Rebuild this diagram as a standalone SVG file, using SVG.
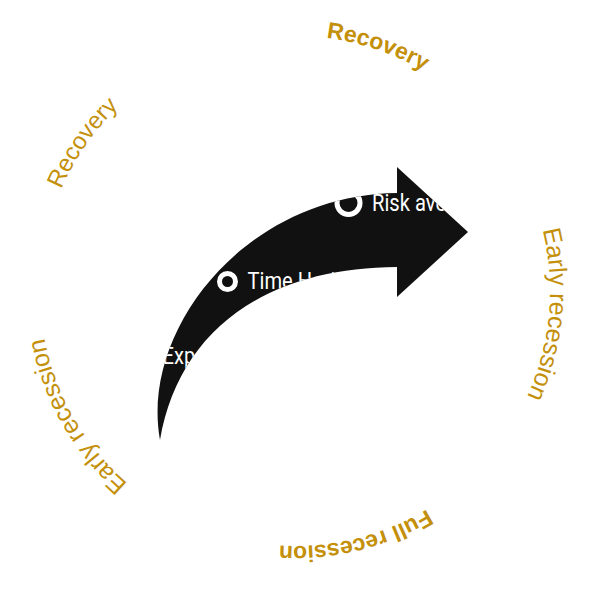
<svg xmlns="http://www.w3.org/2000/svg" xmlns:xlink="http://www.w3.org/1999/xlink" width="591" height="591" viewBox="0 0 591 591">
  <style>
    .lbl { fill: #C4900C; font-family: "Liberation Sans", Arial, sans-serif; font-size: 24px; }
    .b { font-weight: bold; font-size: 23px; }
    .er { font-size: 25px; }
    .wt { fill: #FFFFFF; font-family: Roboto, "Liberation Sans", sans-serif; font-size: 24px; }
    .dot { fill: none; stroke: #FFFFFF; stroke-width: 5; }
  </style>
  <defs>
    <path id="ring" d="M 295,36 A 255,255 0 1,1 295,546 A 255,255 0 1,1 295,36 Z"/>
    <path id="arrowShape" d="M 160,440 C 140,330 245,195 397,193 L 397,167 L 468,232 L 397,297 L 397,267 C 260,268 178,335 160,440 Z"/>
    <clipPath id="arrowClip">
      <use xlink:href="#arrowShape"/>
    </clipPath>
  </defs>
  <rect width="591" height="591" fill="#FFFFFF"/>

  <g id="arrow">
    <use xlink:href="#arrowShape" fill="#111111"/>
    <g clip-path="url(#arrowClip)">
      <g id="point-risk">
        <circle class="dot" cx="348.5" cy="203" r="11.5"/>
        <text class="wt" transform="translate(372,211) scale(0.84,1)">Risk aversion</text>
      </g>
      <g id="point-time">
        <circle class="dot" cx="227.5" cy="281.5" r="8"/>
        <text class="wt" transform="translate(247.5,289) scale(0.84,1)">Time Horizon</text>
      </g>
      <g id="point-ex">
        <circle class="dot" cx="142" cy="356" r="7"/>
        <text class="wt" transform="translate(162.5,364) scale(0.84,1)">Expected return</text>
      </g>
    </g>
  </g>

  <g id="label-recovery-top">
    <text class="lbl b"><textPath xlink:href="#ring" startOffset="5.2%" text-anchor="middle">Recovery</textPath></text>
  </g>
  <g id="label-early-right">
    <text class="lbl er"><textPath xlink:href="#ring" startOffset="26.47%" text-anchor="middle">Early recession</textPath></text>
  </g>
  <g id="label-full-bottom">
    <text class="lbl b"><textPath xlink:href="#ring" startOffset="46.17%" text-anchor="middle">Full recession</textPath></text>
  </g>
  <g id="label-early-left">
    <text class="lbl er"><textPath xlink:href="#ring" startOffset="66.72%" text-anchor="middle">Early recession</textPath></text>
  </g>
  <g id="label-recovery-left">
    <text class="lbl"><textPath xlink:href="#ring" startOffset="84.69%" text-anchor="middle">Recovery</textPath></text>
  </g>
</svg>
